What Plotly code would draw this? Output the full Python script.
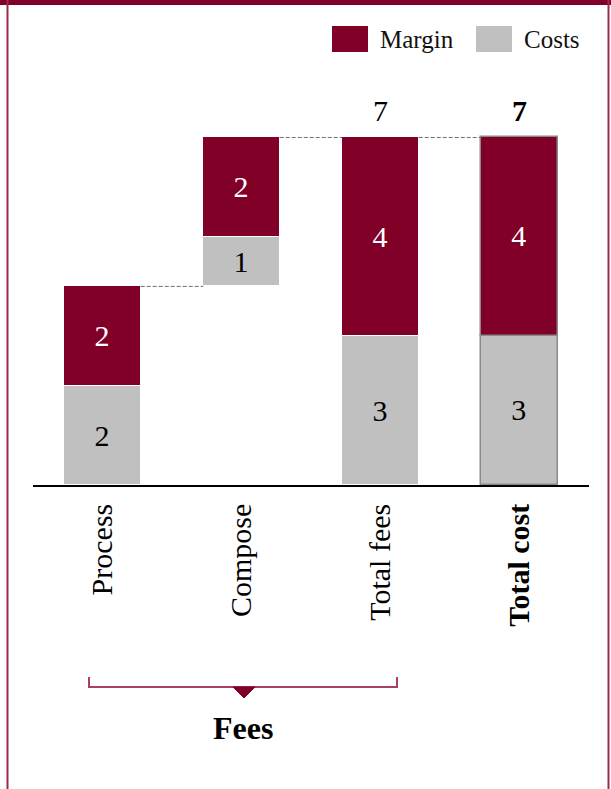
import plotly.graph_objects as go

# ---- data ----
categories = ["Process", "Compose", "Total fees", "Total cost"]
tick_labels = ["Process", "Compose", "Total fees", "<b>Total cost</b>"]
costs = [2, 1, 3, 3]
margins = [2, 2, 4, 4]
bases = [0, 4, 0, 0]          # waterfall start of each column
totals_shown = [None, None, 7, 7]
legend_names = ["Margin", "Costs"]
group_label = "Fees"

MARGIN_C = "#800028"
COST_C = "#c0c0c0"
FONT = "Liberation Serif"

W, H = 611, 789
L, R, T, B = 33, 22, 63, 304
PW, PH = W - L - R, H - T - B
YMAX = 8.5


def px(x):
    return (x - L) / PW


def py(y):
    return (H - B - y) / PH


margin_base = [b + c for b, c in zip(bases, costs)]
tops = [mb + m for mb, m in zip(margin_base, margins)]
line_cols = ["white", "white", "white", "#8a8a8a"]
line_w = [1, 1, 1, 1.5]

fig = go.Figure()
fig.add_trace(go.Bar(
    x=categories, y=costs, base=bases, width=0.55,
    marker=dict(color=COST_C, line=dict(color=line_cols, width=line_w)),
    text=[str(v) for v in costs], textposition="inside", insidetextanchor="middle",
    textangle=0, constraintext="none",
    textfont=dict(family=FONT, size=30, color="black"), showlegend=False,
    hoverinfo="skip"))
fig.add_trace(go.Bar(
    x=categories, y=margins, base=margin_base, width=0.55,
    marker=dict(color=MARGIN_C, line=dict(color=line_cols, width=line_w)),
    text=[str(v) for v in margins], textposition="inside", insidetextanchor="middle",
    textangle=0, constraintext="none",
    textfont=dict(family=FONT, size=30, color="white"), showlegend=False,
    hoverinfo="skip"))

shapes = []
# connectors
for i in range(len(categories) - 1):
    shapes.append(dict(type="line", xref="x", yref="y",
                       x0=i + 0.275, x1=i + 1 - 0.275, y0=tops[i], y1=tops[i],
                       line=dict(color="#707070", width=1, dash="4px,2px")))

annotations = []
for i, t in enumerate(totals_shown):
    if t is None:
        continue
    txt = f"<b>{t}</b>" if i == len(categories) - 1 else str(t)
    annotations.append(dict(x=categories[i], y=t, xref="x", yref="y", text=txt,
                            showarrow=False, yanchor="bottom", yshift=8,
                            font=dict(family=FONT, size=30, color="black")))

# legend (manual, large swatches)
for (x0, x1, col, name, tx) in [(332, 368, MARGIN_C, legend_names[0], 378),
                                 (476, 512, COST_C, legend_names[1], 522)]:
    shapes.append(dict(type="rect", xref="paper", yref="paper",
                       x0=px(x0), x1=px(x1), y0=py(52), y1=py(26),
                       fillcolor=col, line=dict(width=0)))
    annotations.append(dict(xref="paper", yref="paper", x=px(tx), y=py(39),
                            xanchor="left", yanchor="middle", text=name,
                            showarrow=False,
                            font=dict(family=FONT, size=25, color="#111")))

# bracket for Fees group
BR_C = "#a8435f"
shapes.append(dict(type="path", xref="paper", yref="paper",
                   path=f"M {px(89)},{py(677)} L {px(89)},{py(687)} L {px(397)},{py(687)} L {px(397)},{py(677)}",
                   line=dict(color=BR_C, width=2)))
shapes.append(dict(type="path", xref="paper", yref="paper",
                   path=f"M {px(233)},{py(687)} L {px(255)},{py(687)} L {px(244)},{py(698)} Z",
                   fillcolor=MARGIN_C, line=dict(color=MARGIN_C, width=1)))
annotations.append(dict(xref="paper", yref="paper", x=px(243), y=py(728),
                        xanchor="center", yanchor="middle", text=f"<b>{group_label}</b>",
                        showarrow=False, font=dict(family=FONT, size=32, color="black")))

# frame
shapes.append(dict(type="rect", xref="paper", yref="paper",
                   x0=px(0), x1=px(611), y0=py(5), y1=py(-1),
                   fillcolor=MARGIN_C, line=dict(width=0)))
for xx in (7.5, 608.5):
    shapes.append(dict(type="line", xref="paper", yref="paper",
                       x0=px(xx), x1=px(xx), y0=py(0), y1=py(789),
                       line=dict(color="#9a2a4c", width=2)))

fig.update_layout(
    width=W, height=H, margin=dict(l=L, r=R, t=T, b=B, pad=0),
    paper_bgcolor="white", plot_bgcolor="white",
    barmode="overlay", bargap=0, showlegend=False,
    shapes=shapes, annotations=annotations,
    font=dict(family=FONT, color="black"),
)
fig.update_xaxes(type="category", categoryorder="array", categoryarray=categories,
                 tickvals=categories, ticktext=tick_labels, tickangle=-90,
                 tickfont=dict(family=FONT, size=30, color="black"),
                 showline=True, linecolor="black", linewidth=1.5,
                 showgrid=False, zeroline=False, ticks="", ticklabelstandoff=5,
                 range=[-0.5, 3.5])
fig.update_yaxes(range=[0, YMAX], visible=False, showgrid=False, zeroline=False)

fig.write_html("out.html", config={"displayModeBar": False},
               post_script="document.body.style.margin='0';document.body.style.overflow='hidden';")
